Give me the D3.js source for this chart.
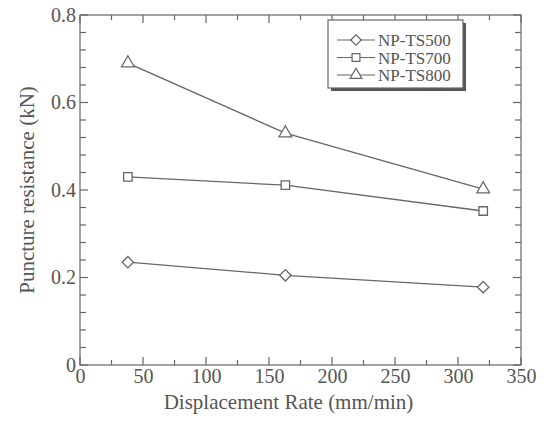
<!DOCTYPE html>
<html>
<head>
<meta charset="utf-8">
<script src="https://cdn.jsdelivr.net/npm/d3@7"></script>
<style>
  body { margin: 0; background: #fff; }
  svg { display: block; }
</style>
</head>
<body>
<svg id="chart" width="546" height="422"></svg>
<script>
const rates = [38, 163, 320];
const np500 = [0.235, 0.205, 0.178];
const np700 = [0.43, 0.411, 0.352];
const np800 = [0.69, 0.53, 0.402];
const seriesNames = ['NP-TS500', 'NP-TS700', 'NP-TS800'];
const xTicks = [0, 50, 100, 150, 200, 250, 300, 350];
const yTicks = [0, 0.2, 0.4, 0.6, 0.8];

const ink = '#555';
const lineColor = '#666';
const font = '"Times New Roman", "Liberation Serif", "DejaVu Serif", serif';

const MARGIN = { top: 15, right: 25, bottom: 57, left: 80 };
const WIDTH = 546 - MARGIN.left - MARGIN.right;
const HEIGHT = 422 - MARGIN.top - MARGIN.bottom;

const svg = d3.select('#chart');
const g = svg.append('g').attr('transform', `translate(${MARGIN.left},${MARGIN.top})`);

const x = d3.scaleLinear().domain([0, 350]).range([0, WIDTH]);
const y = d3.scaleLinear().domain([0, 0.8]).range([HEIGHT, 0]);

// square diamond (rotated square), d3's diamond is too tall
const squareDiamond = {
    draw(ctx, size) {
        const r = Math.sqrt(size / 2);
        ctx.moveTo(0, -r);
        ctx.lineTo(r, 0);
        ctx.lineTo(0, r);
        ctx.lineTo(-r, 0);
        ctx.closePath();
    }
};

// frame
g.append('rect')
    .attr('width', WIDTH).attr('height', HEIGHT)
    .attr('fill', 'none').attr('stroke', lineColor).attr('stroke-width', 1.2);

// inward ticks on all four sides
const xMinor = d3.range(0, 351, 25);
const yMinor = d3.range(0, 0.801, 0.04);
xMinor.forEach(v => {
    const len = v % 50 === 0 ? 8 : 5;
    g.append('line').attr('x1', x(v)).attr('x2', x(v)).attr('y1', HEIGHT).attr('y2', HEIGHT - len)
        .attr('stroke', lineColor).attr('stroke-width', 1.2);
    g.append('line').attr('x1', x(v)).attr('x2', x(v)).attr('y1', 0).attr('y2', len)
        .attr('stroke', lineColor).attr('stroke-width', 1.2);
});
yMinor.forEach(v => {
    const major = Math.abs(Math.round(v * 5) - v * 5) < 1e-6;
    const len = major ? 8 : 6;
    g.append('line').attr('x1', 0).attr('x2', len).attr('y1', y(v)).attr('y2', y(v))
        .attr('stroke', lineColor).attr('stroke-width', 1.2);
    g.append('line').attr('x1', WIDTH).attr('x2', WIDTH - len).attr('y1', y(v)).attr('y2', y(v))
        .attr('stroke', lineColor).attr('stroke-width', 1.2);
});

// tick labels
g.append('g')
    .attr('transform', `translate(0,${HEIGHT})`)
    .call(d3.axisBottom(x).tickValues(xTicks).tickSize(0).tickPadding(4).tickFormat(d3.format('d')))
    .call(a => a.select('.domain').remove())
    .selectAll('text')
    .style('font-family', font).style('font-size', '20px').style('fill', ink);

g.append('g')
    .call(d3.axisLeft(y).tickValues(yTicks).tickSize(0).tickPadding(4).tickFormat(d => d === 0 ? '0' : d3.format('.1f')(d)))
    .call(a => a.select('.domain').remove())
    .selectAll('text')
    .style('font-family', font).style('font-size', '20px').style('fill', ink);

// axis titles
svg.append('text')
    .attr('x', MARGIN.left + WIDTH / 2 - 12).attr('y', 409)
    .attr('text-anchor', 'middle')
    .style('font-family', font).style('font-size', '21px').style('fill', ink)
    .text('Displacement Rate (mm/min)');

svg.append('text')
    .attr('transform', `translate(34,${MARGIN.top + HEIGHT / 2}) rotate(-90)`)
    .attr('text-anchor', 'middle')
    .style('font-family', font).style('font-size', '21px').style('fill', ink)
    .text('Puncture resistance (kN)');

// series
const shapes = [squareDiamond, d3.symbolSquare, d3.symbolTriangle];
const sizes = [64, 72, 70];
const data = [np500, np700, np800];

const line = d3.line().x(d => x(d[0])).y(d => y(d[1]));

data.forEach((vals, i) => {
    const pts = rates.map((r, j) => [r, vals[j]]);
    g.append('path').datum(pts)
        .attr('d', line).attr('fill', 'none')
        .attr('stroke', lineColor).attr('stroke-width', 1.3);
    g.selectAll(null).data(pts).join('path')
        .attr('transform', d => `translate(${x(d[0])},${y(d[1])})`)
        .attr('d', d3.symbol().type(shapes[i]).size(sizes[i]))
        .attr('fill', '#fff').attr('stroke', lineColor).attr('stroke-width', 1.3);
});

// legend
const lg = svg.append('g').attr('transform', 'translate(328,20)');
lg.append('rect').attr('x', 3).attr('y', 3).attr('width', 135).attr('height', 68).attr('fill', '#555');
lg.append('rect').attr('width', 135).attr('height', 68)
    .attr('fill', '#fff').attr('stroke', lineColor).attr('stroke-width', 1.2);
seriesNames.forEach((name, i) => {
    const yy = 20 + i * 17.5;
    lg.append('line').attr('x1', 9).attr('x2', 47).attr('y1', yy).attr('y2', yy)
        .attr('stroke', lineColor).attr('stroke-width', 1.2);
    lg.append('path').attr('transform', `translate(28,${yy})`)
        .attr('d', d3.symbol().type(shapes[i]).size(sizes[i] * 0.85))
        .attr('fill', '#fff').attr('stroke', lineColor).attr('stroke-width', 1.2);
    lg.append('text').attr('x', 50).attr('y', yy + 6)
        .style('font-family', font).style('font-size', '17px').style('fill', ink)
        .text(name);
});
</script>
</body>
</html>
